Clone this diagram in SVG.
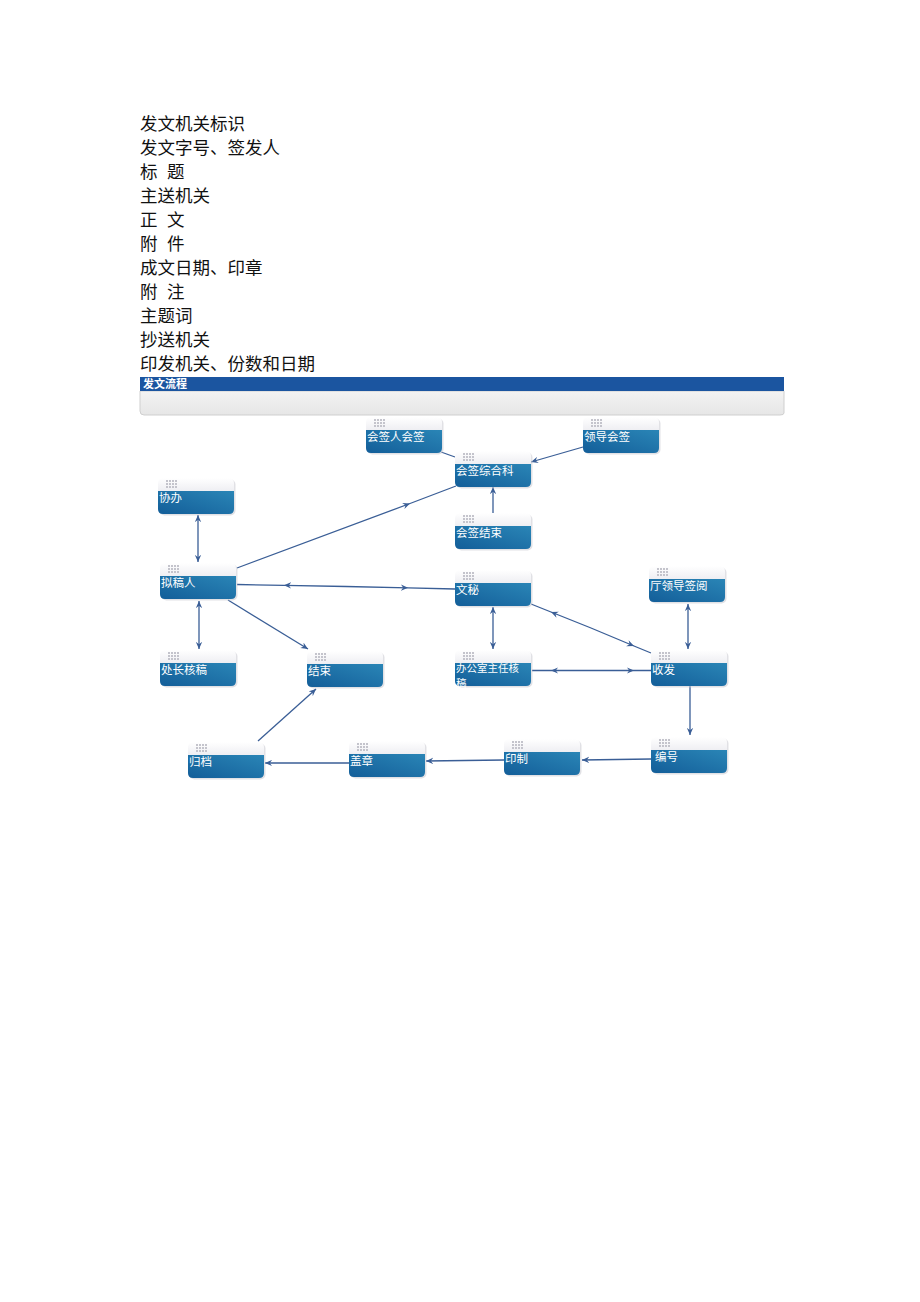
<svg xmlns="http://www.w3.org/2000/svg" xmlns:xlink="http://www.w3.org/1999/xlink" width="920" height="1302" viewBox="0 0 920 1302">
<style>
.lst{font-family:"Noto Sans CJK SC","Liberation Sans",sans-serif;font-size:17.5px;fill:#111}
.nt{font-family:"Noto Sans CJK SC","Liberation Sans",sans-serif;font-size:11.5px;fill:#fff}
.nt2{font-family:"Noto Sans CJK SC","Liberation Sans",sans-serif;font-size:10.5px;fill:#fff}
.sh{fill:#c9c9cf;opacity:0.55}
.top{fill:url(#topg)}
.blue{fill:url(#blueg)}
.ln{stroke:#3a5e96;stroke-width:1.3;fill:none}
.ae{marker-end:url(#arr)}
.as{marker-start:url(#arrs)}
.am{marker-mid:url(#arr)}
.gi{fill:#c4c4cc}
</style>
<defs>
<linearGradient id="topg" x1="0" y1="0" x2="0" y2="1">
<stop offset="0" stop-color="#ffffff"/>
<stop offset="0.35" stop-color="#efeff3"/>
<stop offset="1" stop-color="#e9e9ef"/>
</linearGradient>
<linearGradient id="blueg" x1="0" y1="1" x2="1" y2="0">
<stop offset="0" stop-color="#135e99"/>
<stop offset="1" stop-color="#2a85b6"/>
</linearGradient>
<linearGradient id="barg" x1="0" y1="0" x2="0" y2="1">
<stop offset="0" stop-color="#f3f3f3"/>
<stop offset="1" stop-color="#e6e6e6"/>
</linearGradient>
<marker id="arr" viewBox="0 0 10 8" refX="9" refY="4" markerWidth="8" markerHeight="7" markerUnits="userSpaceOnUse" orient="auto">
<path d="M0,0 L9,4 L0,8 L3,4 Z" fill="#3a5e96"/>
</marker>
<marker id="arrs" viewBox="0 0 10 8" refX="9" refY="4" markerWidth="8" markerHeight="7" markerUnits="userSpaceOnUse" orient="auto-start-reverse">
<path d="M0,0 L9,4 L0,8 L3,4 Z" fill="#3a5e96"/>
</marker>
<g id="grid">
<rect class="gi" x="0" y="0" width="2" height="2"/><rect class="gi" x="3" y="0" width="2" height="2"/><rect class="gi" x="6" y="0" width="2" height="2"/><rect class="gi" x="9" y="0" width="2" height="2"/>
<rect class="gi" x="0" y="3" width="2" height="2"/><rect class="gi" x="3" y="3" width="2" height="2"/><rect class="gi" x="6" y="3" width="2" height="2"/><rect class="gi" x="9" y="3" width="2" height="2"/>
<rect class="gi" x="0" y="6" width="2" height="2"/><rect class="gi" x="3" y="6" width="2" height="2"/><rect class="gi" x="6" y="6" width="2" height="2"/><rect class="gi" x="9" y="6" width="2" height="2"/>
</g>
<g id="nodebg">
<rect class="sh" x="1.5" y="1.5" width="76" height="36" rx="5"/>
<rect class="top" width="76" height="36" rx="5"/>
<path class="blue" d="M0,13 H76 V31 Q76,36 71,36 H5 Q0,36 0,31 Z"/>
<use xlink:href="#grid" x="8" y="2"/>
</g>
</defs>
<rect width="920" height="1302" fill="#ffffff"/>

<g id="text-list">
<text class="lst" x="140" y="130">发文机关标识</text>
<text class="lst" x="140" y="154">发文字号、签发人</text>
<text class="lst" x="140" y="178">标<tspan x="167">题</tspan></text>
<text class="lst" x="140" y="202">主送机关</text>
<text class="lst" x="140" y="226">正<tspan x="167">文</tspan></text>
<text class="lst" x="140" y="250">附<tspan x="167">件</tspan></text>
<text class="lst" x="140" y="274">成文日期、印章</text>
<text class="lst" x="140" y="298">附<tspan x="167">注</tspan></text>
<text class="lst" x="140" y="322">主题词</text>
<text class="lst" x="140" y="346">抄送机关</text>
<text class="lst" x="140" y="370">印发机关、份数和日期</text>
</g>

<g id="header">
<path d="M140,391 H784 V413 Q784,415 780,415 H144 Q140,415 140,411 Z" fill="url(#barg)" stroke="#cfcfcf" stroke-width="1"/>
<rect x="140" y="377" width="644" height="14" fill="#1b55a0"/>
<text x="143" y="388" font-family="'Noto Sans CJK SC',sans-serif" font-size="11px" font-weight="bold" fill="#ffffff">发文流程</text>
</g>

<g id="connectors">
<line class="ln" x1="441" y1="452" x2="455" y2="457"/>
<line class="ln ae" x1="583" y1="447" x2="531" y2="462"/>
<line class="ln ae" x1="493" y1="513" x2="493" y2="487"/>
<polyline class="ln am" points="237,568 410,503.5 456,486"/>
<line class="ln ae as" x1="198" y1="515" x2="198" y2="562"/>
<path class="ln am" d="M346,586.5 L284,585.3 L237,584.5"/>
<path class="ln am" d="M346,586.5 L408,587.8 L455,589"/>
<line class="ln ae as" x1="199" y1="601" x2="199" y2="649"/>
<line class="ln ae" x1="228" y1="600" x2="308" y2="649"/>
<line class="ln ae as" x1="493" y1="607" x2="493" y2="649"/>
<path class="ln am" d="M591,628 L551,612 L531,604"/>
<path class="ln am" d="M591,628 L634,646 L651,653"/>
<path class="ln am" d="M592,670.5 L551,670.5 L532,670.5"/>
<path class="ln am" d="M592,670.5 L634,670.5 L651,670.5"/>
<line class="ln ae as" x1="688" y1="604" x2="688" y2="649"/>
<line class="ln ae" x1="690" y1="686" x2="690" y2="735"/>
<line class="ln ae" x1="651" y1="759" x2="582" y2="760"/>
<line class="ln ae" x1="504" y1="760" x2="426" y2="761"/>
<line class="ln ae" x1="349" y1="763" x2="265" y2="763"/>
<line class="ln ae" x1="258" y1="741" x2="316" y2="689"/>
</g>

<g id="n-huiqianren" transform="translate(366,417)"><use xlink:href="#nodebg"/><text class="nt" x="1" y="24">会签人会签</text></g>
<g id="n-lingdao" transform="translate(583,417)"><use xlink:href="#nodebg"/><text class="nt" x="1" y="24">领导会签</text></g>
<g id="n-zonghe" transform="translate(455,451)"><use xlink:href="#nodebg"/><text class="nt" x="1" y="24">会签综合科</text></g>
<g id="n-xieban" transform="translate(158,478)"><use xlink:href="#nodebg"/><text class="nt" x="1" y="24">协办</text></g>
<g id="n-jieshu-hq" transform="translate(455,513)"><use xlink:href="#nodebg"/><text class="nt" x="1" y="24">会签结束</text></g>
<g id="n-nigaoren" transform="translate(160,563)"><use xlink:href="#nodebg"/><text class="nt" x="1" y="24">拟稿人</text></g>
<g id="n-wenmi" transform="translate(455,570)"><use xlink:href="#nodebg"/><text class="nt" x="1" y="24">文秘</text></g>
<g id="n-tingld" transform="translate(649,566)"><use xlink:href="#nodebg"/><text class="nt" x="1" y="24">厅领导签阅</text></g>
<g id="n-chuzhang" transform="translate(160,650)"><use xlink:href="#nodebg"/><text class="nt" x="1" y="24">处长核稿</text></g>
<g id="n-jieshu" transform="translate(307,651)"><use xlink:href="#nodebg"/><text class="nt" x="1" y="24">结束</text></g>
<g id="n-bangongshi" transform="translate(455,650)"><use xlink:href="#nodebg"/><text class="nt2" x="1" y="21.5">办公室主任核<tspan x="1" dy="15.3">稿</tspan></text></g>
<g id="n-shoufa" transform="translate(651,650)"><use xlink:href="#nodebg"/><text class="nt" x="1" y="24">收发</text></g>
<g id="n-guidang" transform="translate(188,742)"><use xlink:href="#nodebg"/><text class="nt" x="1" y="24">归档</text></g>
<g id="n-gaizhang" transform="translate(349,741)"><use xlink:href="#nodebg"/><text class="nt" x="1" y="24">盖章</text></g>
<g id="n-yinzhi" transform="translate(504,739)"><use xlink:href="#nodebg"/><text class="nt" x="1" y="24">印制</text></g>
<g id="n-bianhao" transform="translate(651,737)"><use xlink:href="#nodebg"/><text class="nt" x="4" y="24">编号</text></g>
</svg>
